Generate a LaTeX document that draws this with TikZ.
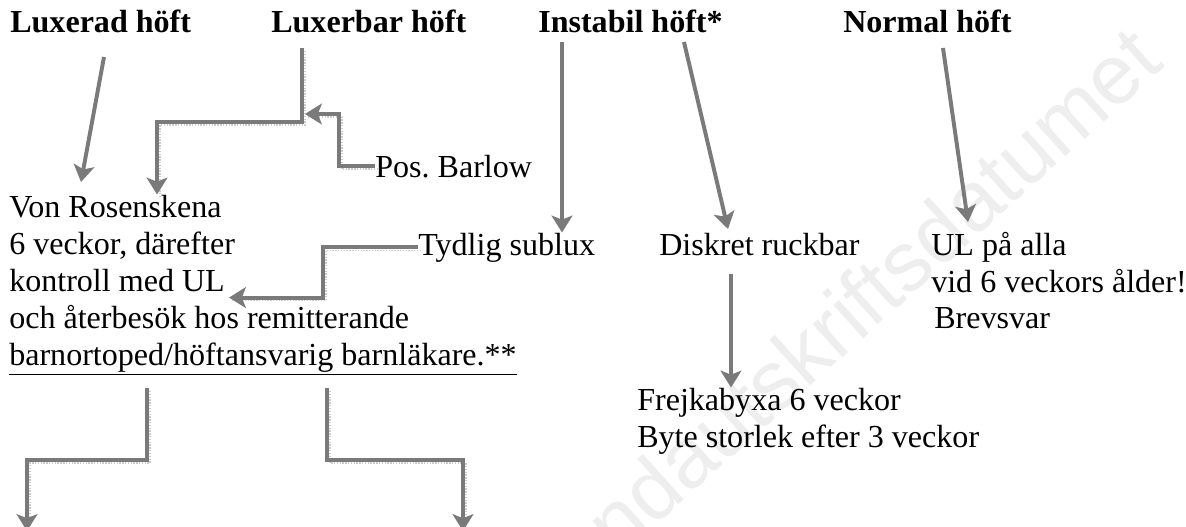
\documentclass[tikz,border=0pt]{standalone}
\usepackage{fontspec}
\setmainfont{Liberation Serif}
\newfontfamily\stampfont{Liberation Sans}
\usetikzlibrary{arrows.meta}

\definecolor{pilgray}{RGB}{122,122,122}

\tikzset{
  txt/.style={anchor=base west, inner sep=0pt, font=\fontsize{22.8}{27}\selectfont},
  head/.style={txt, font=\fontsize{22.8}{27}\selectfont\bfseries},
  pil/.style={draw=pilgray, line width=2.8pt, line join=miter,
    -{Stealth[length=0.42cm, width=0.52cm, inset=0.1cm]}},
  knee/.style={pil, preaction={-, draw=gray!40, line width=1pt,
    dash pattern=on 1pt off 1pt, transform canvas={shift={(3,3)}}}},
  stamp/.style={inner sep=0pt, text=gray!13, rotate=42,
    font=\stampfont\fontsize{60}{60}\selectfont},
}

\begin{document}
\begin{tikzpicture}[x=0.025cm, y=-0.025cm]
\useasboundingbox (0,0) rectangle (1186,527);
\fill[white] (0,0) rectangle (1186,527);
\node[stamp] (stamp) at (872,290) {ndautskriftsdatumet}; % watermark

% headings
\node[head] (luxerad) at (10,32) {Luxerad höft};
\node[head] (luxerbar) at (271,32) {Luxerbar höft};
\node[head] (instabil) at (538,32) {Instabil höft*};
\node[head] (normal) at (843,32) {Normal höft};

% texts
\node[txt] (von1) at (9,217) {Von Rosenskena};
\node[txt] (von2) at (9,254) {6 veckor, därefter};
\node[txt] (von3) at (9,291) {kontroll med UL};
\node[txt] (von4) at (9,328) {och återbesök hos remitterande};
\node[txt] (von5) at (9,365) {\underline{barnortoped/höftansvarig barnläkare.**}};
\node[txt] (barlow) at (375,177) {Pos.\ Barlow};
\node[txt] (sublux) at (418,255) {Tydlig sublux};
\node[txt] (ruckbar) at (659,255) {Diskret ruckbar};
\node[txt] (ul1) at (931,255) {UL på alla};
\node[txt] (ul2) at (931,292) {vid 6 veckors ålder!};
\node[txt] (ul3) at (934,328) {Brevsvar};
\node[txt] (frejka1) at (637,410) {Frejkabyxa 6 veckor};
\node[txt] (frejka2) at (637,447) {Byte storlek efter 3 veckor};

% free ends
\coordinate (luxA) at (104,57);
\coordinate (luxB) at (81,182);
\coordinate (lbA) at (302,48);
\coordinate (barlowB) at (305,114);
\coordinate (insA) at (562,42);
\coordinate (insC) at (684,42);
\coordinate (insD) at (728,229);
\coordinate (norA) at (943,48);
\coordinate (norB) at (968,222);
\coordinate (diskA) at (731,274);
\coordinate (barnA) at (147,388);
\coordinate (barnB) at (327,388);
\coordinate (barnC) at (27,531);
\coordinate (barnD) at (463,531);

% arrows
\draw[pil] (luxA) -- (luxB); % Luxerad
\draw[knee] (lbA) -- ++(0,74) -| ([xshift=3.7cm]von1.north west); % Luxerbar
\draw[knee] (barlow.west) -- ++(-36,0) |- (barlowB); % Pos. Barlow
\draw[pil] (insA) -- (insA |- sublux.north); % Instabil
\draw[pil] (insC) -- (insD); % Instabil
\draw[pil] (norA) -- (norB); % Normal
\draw[knee] (sublux.west) -- ++(-95,0) |- ([xshift=0.1cm,yshift=-0.15cm]von3.south east); % Tydlig sublux
\draw[pil] (diskA) -- (diskA |- frejka1.north); % Diskret ruckbar
\draw[knee] (barnA) -- ++(0,72) -| (barnC); % barnortoped
\draw[knee] (barnB) -- ++(0,72) -| (barnD); % barnortoped
\end{tikzpicture}
\end{document}
